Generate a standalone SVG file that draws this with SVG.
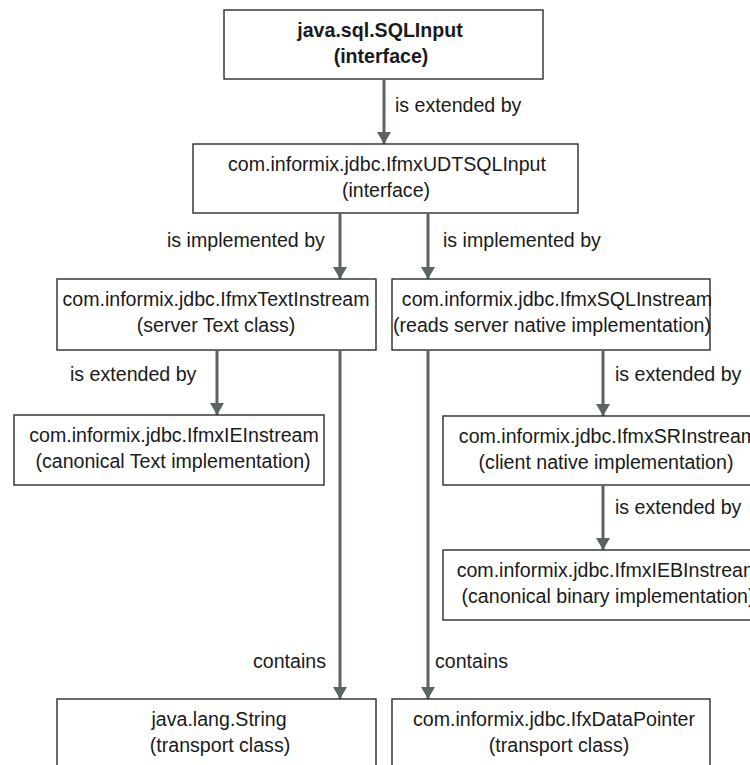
<svg xmlns="http://www.w3.org/2000/svg" width="750" height="765" viewBox="0 0 750 765">
<style>
.box{fill:#fff;stroke:#2b2b2b;stroke-width:1.4}
.t{font-family:"Liberation Sans",Arial,sans-serif;font-size:19.6px;fill:#1a1a1a;text-anchor:middle}
.b{font-weight:bold}
.lbl{font-family:"Liberation Sans",Arial,sans-serif;font-size:19.6px;fill:#1a1a1a}
.c{stroke:#5b6462;stroke-width:3;fill:none;marker-end:url(#ah)}
</style>
<defs>
<marker id="ah" markerUnits="userSpaceOnUse" markerWidth="14" markerHeight="16" refX="12" refY="7" orient="auto" viewBox="0 0 14 16">
<path d="M0,0 L12,7 L0,14 z" fill="#5b6462"/>
</marker>
</defs>
<rect width="750" height="765" fill="#fff"/>
<g id="connectors">
<line class="c" x1="384" y1="80" x2="384" y2="144"/>
<line class="c" x1="340" y1="214" x2="340" y2="279"/>
<line class="c" x1="428" y1="214" x2="428" y2="279"/>
<line class="c" x1="217" y1="351" x2="217" y2="415"/>
<line class="c" x1="340" y1="351" x2="340" y2="699"/>
<line class="c" x1="603" y1="351" x2="603" y2="416"/>
<line class="c" x1="428" y1="351" x2="428" y2="699"/>
<line class="c" x1="603" y1="486" x2="603" y2="550"/>
<text class="lbl" x="395" y="112">is extended by</text>
<text class="lbl" x="167" y="247">is implemented by</text>
<text class="lbl" x="443" y="247">is implemented by</text>
<text class="lbl" x="70" y="381">is extended by</text>
<text class="lbl" x="615" y="381">is extended by</text>
<text class="lbl" x="615" y="514">is extended by</text>
<text class="lbl" x="253" y="668">contains</text>
<text class="lbl" x="435" y="668">contains</text>
</g>
<g id="sqlinput">
<rect class="box" x="224" y="10" width="319" height="69"/>
<text class="t b" x="380" y="37">java.sql.SQLInput</text>
<text class="t b" x="381" y="63">(interface)</text>
</g>
<g id="udtsqlinput">
<rect class="box" x="193" y="144" width="385" height="69"/>
<text class="t" x="387" y="171">com.informix.jdbc.IfmxUDTSQLInput</text>
<text class="t" x="386" y="197">(interface)</text>
</g>
<g id="textinstream">
<rect class="box" x="57" y="279" width="319" height="71"/>
<text class="t" x="216" y="306">com.informix.jdbc.IfmxTextInstream</text>
<text class="t" x="216" y="332">(server Text class)</text>
</g>
<g id="sqlinstream">
<rect class="box" x="392" y="279" width="318" height="71"/>
<text class="t" x="557" y="306">com.informix.jdbc.IfmxSQLInstream</text>
<text class="t" x="552" y="332">(reads server native implementation)</text>
</g>
<g id="ieinstream">
<rect class="box" x="14" y="415" width="310" height="70"/>
<text class="t" x="174" y="442">com.informix.jdbc.IfmxIEInstream</text>
<text class="t" x="173" y="468">(canonical Text implementation)</text>
</g>
<g id="srinstream">
<rect class="box" x="443" y="416" width="320" height="69"/>
<text class="t" x="608" y="443">com.informix.jdbc.IfmxSRInstream</text>
<text class="t" x="606" y="469">(client native implementation)</text>
</g>
<g id="iebinstream">
<rect class="box" x="443" y="550" width="320" height="70"/>
<text class="t" x="608" y="577">com.informix.jdbc.IfmxIEBInstream</text>
<text class="t" x="608" y="603">(canonical binary implementation)</text>
</g>
<g id="string">
<rect class="box" x="57" y="699" width="319" height="80"/>
<text class="t" x="219" y="726">java.lang.String</text>
<text class="t" x="220" y="752">(transport class)</text>
</g>
<g id="datapointer">
<rect class="box" x="392" y="699" width="318" height="80"/>
<text class="t" x="554" y="726">com.informix.jdbc.IfxDataPointer</text>
<text class="t" x="559" y="752">(transport class)</text>
</g>
</svg>
